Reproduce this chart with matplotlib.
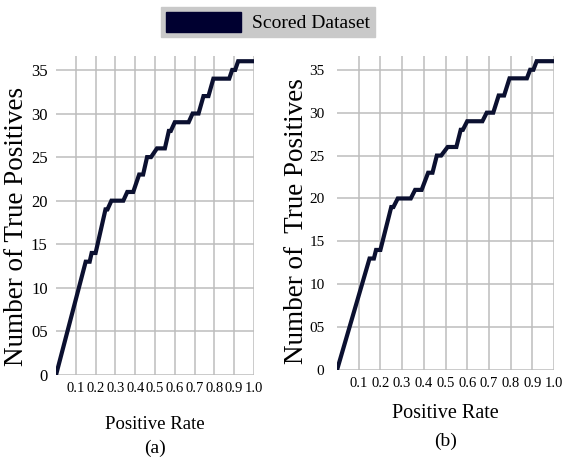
import matplotlib
matplotlib.use('Agg')
import matplotlib.pyplot as plt
from matplotlib.patches import Patch

#########################################################
# values (same curve in both panels)
rate = [0.0, 0.15, 0.17, 0.18, 0.20, 0.25, 0.26, 0.28, 0.34, 0.36, 0.39,
        0.42, 0.44, 0.46, 0.48, 0.51, 0.55, 0.57, 0.58, 0.60, 0.67, 0.69,
        0.72, 0.745, 0.77, 0.795, 0.875, 0.89, 0.905, 0.92, 1.0]
true_pos = [0, 13, 13, 14, 14, 19, 19, 20, 20, 21, 21,
            23, 23, 25, 25, 26, 26, 28, 28, 29, 29, 30,
            30, 32, 32, 34, 34, 35, 35, 36, 36]
x_ticks = [0.1, 0.2, 0.3, 0.4, 0.5, 0.6, 0.7, 0.8, 0.9, 1.0]
x_labels = ['0.1', '0.2', '0.3', '0.4', '0.5', '0.6', '0.7', '0.8', '0.9', '1.0']
y_ticks = [0, 5, 10, 15, 20, 25, 30, 35]
y_labels = ['0', '05', '10', '15', '20', '25', '30', '35']
series_name = 'Scored Dataset'

line_color = '#0b1030'
grid_color = '#bdbdbd'

plt.rcParams['font.family'] = ['Liberation Serif', 'DejaVu Serif']


#########################################################
def draw_panel(ax, ylabel, letter, ylab_x, ylab_y, ytick_pad, ytick_size,
               xlab_y, letter_y, xlab_size):
    ax.plot(rate, true_pos, color=line_color, lw=3.0, solid_joinstyle='miter')
    ax.set_xlim(0, 1.0)
    ax.set_ylim(0, 36.6)
    ax.set_xticks(x_ticks)
    ax.set_xticklabels(x_labels, fontsize=10.5)
    ax.set_yticks(y_ticks)
    ax.set_yticklabels(y_labels, fontsize=ytick_size)
    ax.tick_params(length=0)
    ax.tick_params(axis='y', pad=ytick_pad)
    ax.tick_params(axis='x', pad=5)
    for s in ax.spines.values():
        s.set_visible(False)
    ax.grid(True, color=grid_color, lw=1.1)
    ax.set_axisbelow(True)
    ax.text(ylab_x, ylab_y, ylabel, transform=ax.transAxes, rotation=90,
            ha='center', va='center', fontsize=19.5)
    ax.text(0.5, xlab_y, 'Positive Rate', transform=ax.transAxes,
            ha='center', va='center', fontsize=xlab_size)
    ax.text(0.5, letter_y, letter, transform=ax.transAxes,
            ha='center', va='center', fontsize=14)


#########################################################
fig = plt.figure(figsize=(5.64, 4.62), dpi=100)
ax1 = fig.add_axes([0.0993, 0.1883, 0.351, 0.6905])
ax2 = fig.add_axes([0.5975, 0.199, 0.3848, 0.6797])

draw_panel(ax1, 'Number of True Positives', '(a)', -0.2, 0.467, 6, 12,
           -0.154, -0.229, 13.5)
draw_panel(ax2, 'Number of  True Positives', '(b)', -0.186, 0.475, 9, 11,
           -0.137, -0.226, 14.5)

handle = Patch(facecolor='#000030', edgecolor='#000030')
fig.legend(handles=[handle], labels=[series_name], loc='upper center',
           bbox_to_anchor=(0.475, 0.985), frameon=True, fancybox=False,
           facecolor='#c9c9c9', edgecolor='#c9c9c9', framealpha=1,
           fontsize=14, handlelength=3.9, handleheight=1.2,
           borderpad=0.25, handletextpad=0.55, borderaxespad=0)

fig.savefig('out.png', dpi=100)
print("finished.")
